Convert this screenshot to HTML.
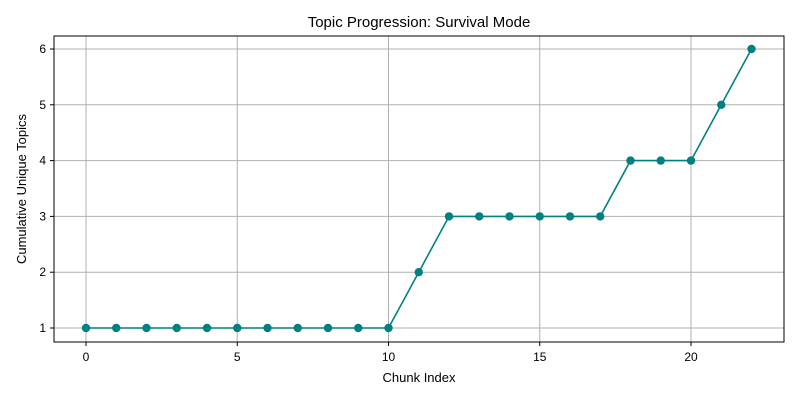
<!DOCTYPE html>
<html><head><meta charset="utf-8"><style>
body{margin:0;background:#fff;}
svg{display:block;font-family:"Liberation Sans","DejaVu Sans",sans-serif;}
</style></head><body>
<svg id="chart" width="800" height="400">
<rect x="0" y="0" width="800" height="400" fill="#fff"/>
<text x="419" y="27" font-size="15" text-anchor="middle">Topic Progression: Survival Mode</text>
<text x="419" y="382" font-size="13" text-anchor="middle">Chunk Index</text>
<text transform="translate(26,189) rotate(-90)" font-size="13" text-anchor="middle">Cumulative Unique Topics</text>
<g id="grid"></g><g id="ticks"></g><g id="series"></g>
<rect x="54" y="36" width="730" height="306" fill="none" stroke="#000" stroke-width="1"/>
</svg>
<script>
const xValues=[0,1,2,3,4,5,6,7,8,9,10,11,12,13,14,15,16,17,18,19,20,21,22];
const topicCounts=[1,1,1,1,1,1,1,1,1,1,1,2,3,3,3,3,3,3,4,4,4,5,6];
const xTicks=[0,5,10,15,20];
const yTicks=[1,2,3,4,5,6];
const NS="http://www.w3.org/2000/svg";
function sx(v){return 86+v*30.25;}
function sy(v){return 328-(v-1)*55.8;}
function mk(t,a,p){const e=document.createElementNS(NS,t);for(const k in a)e.setAttribute(k,a[k]);p.appendChild(e);return e;}
const grid=document.getElementById('grid'),ticks=document.getElementById('ticks'),series=document.getElementById('series');
xTicks.forEach(v=>{
 const g=mk('line',{x1:sx(v),x2:sx(v),y1:36,y2:342,stroke:'#b0b0b0','stroke-width':1},grid);
 
 
 mk('line',{x1:sx(v),x2:sx(v),y1:342,y2:346,stroke:'#000'},ticks);
 const t=mk('text',{x:sx(v),y:361,'font-size':12,'text-anchor':'middle'},ticks);t.textContent=v;
 
 
});
yTicks.forEach(v=>{
 const g=mk('line',{x1:54,x2:784,y1:sy(v),y2:sy(v),stroke:'#b0b0b0','stroke-width':1},grid);
 
 
 mk('line',{x1:50,x2:54,y1:sy(v),y2:sy(v),stroke:'#000'},ticks);
 const t=mk('text',{x:46,y:sy(v)+4,'font-size':12,'text-anchor':'end'},ticks);t.textContent=v;
 
 
});
const pl=mk('polyline',{points:xValues.map((x,i)=>sx(x)+','+sy(topicCounts[i])).join(' '),fill:'none',stroke:'#008080','stroke-width':1.6},series);


xValues.forEach((x,i)=>{
 const c=mk('circle',{cx:sx(x),cy:sy(topicCounts[i]),r:4.2,fill:'#008080'},series);
 
 
});
</script>
</body></html>
